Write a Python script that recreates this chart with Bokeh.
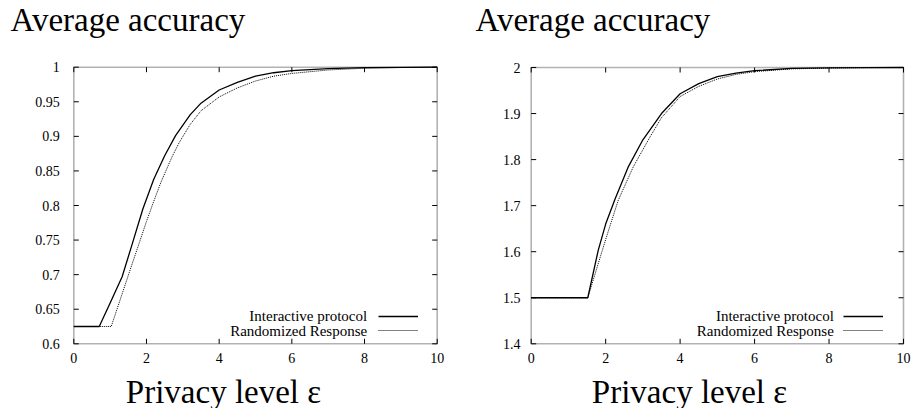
from bokeh.plotting import figure
from bokeh.layouts import row
from bokeh.models import Range1d, Legend, LegendItem, Label, LabelSet, ColumnDataSource, BoxAnnotation
from bokeh.embed import file_html
from bokeh.resources import INLINE

# ---- data -----------------------------------------------------------------
eps_ticks = [0, 2, 4, 6, 8, 10]
eps_labels = ["0", "2", "4", "6", "8", "10"]

# left panel
left_ip_eps = [0, 0.7, 1.0, 1.33, 1.6, 1.9, 2.2, 2.5, 2.8, 3.2, 3.5, 4.0, 4.5, 5.0, 5.5, 6.0, 7.0, 8.0, 9.0, 10.0]
left_ip_acc = [0.625, 0.625, 0.659, 0.697, 0.743, 0.795, 0.838, 0.872, 0.901, 0.931, 0.948, 0.967, 0.978,
               0.987, 0.992, 0.995, 0.998, 0.9993, 0.9998, 1.0]
left_rr_eps = [0, 1.03, 1.5, 2.0, 2.2, 2.4, 2.7, 2.9, 3.2, 3.5, 4.0, 4.5, 5.0, 5.5, 6.0, 7.0, 8.0, 9.0, 10.0]
left_rr_acc = [0.625, 0.625, 0.699, 0.777, 0.806, 0.834, 0.870, 0.891, 0.917, 0.937, 0.957, 0.970, 0.980,
               0.987, 0.991, 0.996, 0.9985, 0.9995, 1.0]
left_y_ticks = [0.6, 0.65, 0.7, 0.75, 0.8, 0.85, 0.9, 0.95, 1.0]
left_y_labels = ["0.6", "0.65", "0.7", "0.75", "0.8", "0.85", "0.9", "0.95", "1"]

# right panel
right_ip_eps = [0, 1.52, 1.8, 2.0, 2.25, 2.6, 3.0, 3.5, 4.0, 4.5, 5.0, 5.5, 6.0, 7.0, 8.0, 9.0, 10.0]
right_ip_acc = [1.5, 1.5, 1.603, 1.66, 1.714, 1.783, 1.843, 1.900, 1.943, 1.965, 1.980, 1.988, 1.993,
                1.998, 1.9993, 1.9998, 2.0]
right_rr_eps = [0, 1.52, 1.91, 2.1, 2.34, 2.74, 3.19, 3.5, 4.0, 4.5, 5.0, 5.5, 6.0, 7.0, 8.0, 9.0, 10.0]
right_rr_acc = [1.5, 1.5, 1.603, 1.652, 1.712, 1.784, 1.849, 1.891, 1.937, 1.959, 1.975, 1.985, 1.991,
                1.997, 1.999, 1.9997, 2.0]
right_y_ticks = [1.4, 1.5, 1.6, 1.7, 1.8, 1.9, 2.0]
right_y_labels = ["1.4", "1.5", "1.6", "1.7", "1.8", "1.9", "2"]

series_names = ["Interactive protocol", "Randomized Response"]
title_text = "Average accuracy"
x_title_text = "Privacy level \u03b5"

SERIF = "'Liberation Serif', 'Times New Roman', serif"
HEIGHT = 408
TICK_PX = 5


def panel(ip_eps, ip_acc, rr_eps, rr_acc, y_lo, y_hi, y_ticks, y_labels, width, box, title_px,
          ylab_gap, xtitle_cx, legend_px, legend_text_right):
    """One panel.  The canvas is the plotting frame, the axes box sits inside it
    at pixel rectangle box=(left, right, top, bottom) so that every text can be
    placed freely around it."""
    L, R, T, B = box
    kx = 10.0 / (R - L)                # data units per pixel
    ky = (y_hi - y_lo) / (B - T)
    x0 = -L * kx
    y0 = y_lo - (HEIGHT - B) * ky

    def dx(px):
        return x0 + px * kx

    def dy(py):
        return y0 + (HEIGHT - py) * ky

    p = figure(width=width, height=HEIGHT, output_backend="svg", toolbar_location=None,
               x_range=Range1d(dx(0), dx(width)), y_range=Range1d(dy(HEIGHT), dy(0)),
               min_border=0, background_fill_color="white", border_fill_color="white")
    p.axis.visible = False
    p.grid.visible = False
    p.outline_line_color = None

    # curves
    r_ip = p.line(ip_eps, ip_acc, line_color="black", line_width=1.3)
    r_rr = p.line(rr_eps, rr_acc, line_color="black", line_width=1, line_dash="1 1")

    # axes box
    p.add_layout(BoxAnnotation(left=0, right=10, bottom=y_lo, top=y_hi, fill_color=None,
                               line_color="black", line_width=1.6))

    # inward ticks on all four sides
    tx, ty = TICK_PX * kx, TICK_PX * ky
    n = len(eps_ticks)
    p.segment(x0=eps_ticks, y0=[y_lo] * n, x1=eps_ticks, y1=[y_lo + ty] * n,
              line_color="black", line_width=1)
    p.segment(x0=eps_ticks, y0=[y_hi] * n, x1=eps_ticks, y1=[y_hi - ty] * n,
              line_color="black", line_width=1)
    m = len(y_ticks)
    p.segment(x0=[0] * m, y0=y_ticks, x1=[tx] * m, y1=y_ticks, line_color="black", line_width=1)
    p.segment(x0=[10] * m, y0=y_ticks, x1=[10 - tx] * m, y1=y_ticks, line_color="black", line_width=1)

    # tick numbers
    xsrc = ColumnDataSource(dict(x=eps_ticks, y=[dy(B + 19)] * n, t=eps_labels))
    p.add_layout(LabelSet(x="x", y="y", text="t", source=xsrc, text_align="center",
                          text_baseline="alphabetic", text_font=SERIF, text_font_size="14px",
                          text_color="black"))
    ysrc = ColumnDataSource(dict(x=[dx(L - ylab_gap)] * m, y=y_ticks, t=y_labels))
    p.add_layout(LabelSet(x="x", y="y", text="t", source=ysrc, text_align="right",
                          text_baseline="middle", text_font=SERIF, text_font_size="14px",
                          text_color="black"))

    def label(px, py, s, size, align, baseline):
        p.add_layout(Label(x=dx(px), y=dy(py), text=s, text_align=align, text_baseline=baseline,
                           text_font=SERIF, text_font_size=size, text_color="black"))

    label(title_px[0], title_px[1], title_text, "33px", "left", "alphabetic")
    label(xtitle_cx, 391.0, x_title_text, "33px", "center", "alphabetic")

    # key: line samples through a legend, names to their left
    legend = Legend(items=[LegendItem(label=" ", renderers=[r_ip]),
                           LegendItem(label=" ", renderers=[r_rr])],
                    location=(legend_px[0], HEIGHT - legend_px[1]), orientation="vertical",
                    glyph_width=40, glyph_height=14, label_width=0, label_height=14,
                    label_standoff=0, padding=0, spacing=0, margin=0,
                    label_text_font_size="1px",
                    border_line_color=None, background_fill_alpha=0)
    p.add_layout(legend)
    for name, py in zip(series_names, [315.7, 330.0]):
        label(legend_text_right, py, name, "15px", "right", "middle")
    return p


p1 = panel(left_ip_eps, left_ip_acc, left_rr_eps, left_rr_acc, 0.6, 1.0,
           left_y_ticks, left_y_labels, 460, (73.3, 436.7, 66.7, 343.3), (10, 19.0),
           14, 223, (377.7, 337), 366.7)
p2 = panel(right_ip_eps, right_ip_acc, right_rr_eps, right_rr_acc, 1.4, 2.0,
           right_y_ticks, right_y_labels, 455, (70.7, 443.0, 67.0, 343.3), (15, 19.0),
           10.7, 229, (383.3, 337), 373.3)

layout = row(p1, p2)
open("out.html", "w").write(file_html(layout, INLINE))
